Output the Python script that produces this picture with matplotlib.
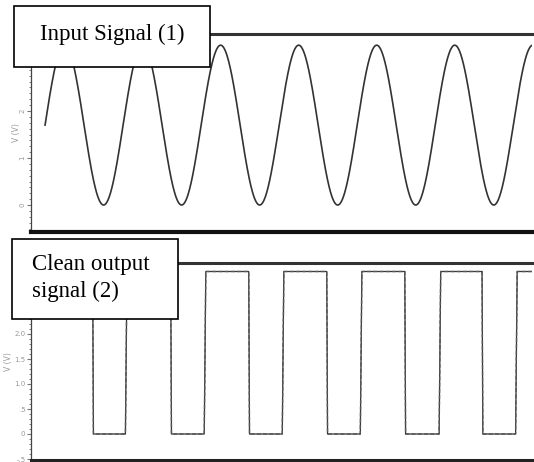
import numpy as np
import matplotlib
matplotlib.use("Agg")
import matplotlib.pyplot as plt
from matplotlib.patches import Rectangle
from matplotlib.ticker import FixedLocator, MultipleLocator

# ---- data (time in signal periods, voltage in V) ----
sine_offset = 1.7
sine_amplitude = 1.7
sine_period = 1.0
sine_start = 0.18
t_end = 6.42

square_high = 3.25
square_low = 0.0
fall_times = [0.79, 1.79, 2.79, 3.79, 4.79, 5.78]
rise_times = [1.21, 2.22, 3.22, 4.22, 5.23, 6.21]

top_ticks = [0, 1, 2, 3]
top_tick_labels = ["0", "1", "2", "3"]
bot_ticks = [-0.5, 0.0, 0.5, 1.0, 1.5, 2.0, 2.5, 3.0]
bot_tick_labels = ["-.5", "0", ".5", "1.0", "1.5", "2.0", "2.5", "3.0"]

box1_text = "Input Signal (1)"
box2_text = "Clean output\nsignal (2)"

W, H = 534, 462
fig = plt.figure(figsize=(W / 100, H / 100), dpi=100)


def ax_rect(x0, y0, x1, y1):
    return [x0 / W, 1 - y1 / H, (x1 - x0) / W, (y1 - y0) / H]


ax1 = fig.add_axes(ax_rect(31, 34, 532, 232))
ax2 = fig.add_axes(ax_rect(31, 263, 532, 460))

# sine wave
t = np.linspace(sine_start, t_end, 2000)
v = sine_offset + sine_amplitude * np.sin(2 * np.pi * (t - sine_start) / sine_period)
ax1.plot(t, v, color="#333333", lw=1.2)
ax1.set_xlim(0, t_end)
ax1.set_ylim(-0.574, 3.638)

# square wave
ts = [sine_start]
vs = [square_high]
for f, r in zip(fall_times, rise_times):
    ts += [f, f + 0.01, r, r + 0.02]
    vs += [square_high, square_low, square_low, square_high]
ts.append(t_end)
vs.append(square_high)
ax2.plot(ts, vs, color="#333333", lw=0.9)
ax2.plot(ts, vs, color="#555555", lw=1.0, ls=(0, (3, 1.5)))
ax2.set_xlim(0, t_end)
ax2.set_ylim(-0.52, 3.42)

for ax in (ax1, ax2):
    ax.spines["right"].set_visible(False)
    ax.spines["top"].set_linewidth(2.2)
    ax.spines["top"].set_color("#333333")
    ax.spines["left"].set_linewidth(0.9)
    ax.spines["left"].set_color("#444444")
    ax.set_xticks([])
    ax.tick_params(axis="y", which="major", length=3, width=0.8, color="#777777",
                   labelsize=5, labelcolor="#999999", pad=1)
    ax.tick_params(axis="y", which="minor", length=1.5, width=0.6, color="#666666")

ax1.spines["bottom"].set_linewidth(3.0)
ax1.spines["bottom"].set_color("#111111")
ax2.spines["bottom"].set_linewidth(2.2)
ax2.spines["bottom"].set_color("#222222")

ax1.yaxis.set_major_locator(FixedLocator(top_ticks))
ax1.set_yticklabels(top_tick_labels, rotation=90, va="center")
ax1.yaxis.set_minor_locator(MultipleLocator(0.125))
ax2.yaxis.set_major_locator(FixedLocator(bot_ticks))
ax2.set_yticklabels(bot_tick_labels)
ax2.yaxis.set_minor_locator(MultipleLocator(0.1))

fig.text(16 / W, 1 - 133 / H, "V (V)", rotation=90, ha="center", va="center",
         fontsize=5.5, color="#999999")
fig.text(9 / W, 1 - 362 / H, "V (V)", rotation=90, ha="center", va="center",
         fontsize=5.5, color="#999999")


def box(x0, y0, x1, y1):
    r = Rectangle((x0 / W, 1 - y1 / H), (x1 - x0) / W, (y1 - y0) / H,
                  transform=fig.transFigure, facecolor="white", edgecolor="black",
                  linewidth=1.2, zorder=10)
    fig.add_artist(r)


box(14, 6, 210, 67)
box(12, 239, 178, 319)
fig.text(112 / W, 1 - 34 / H, box1_text, ha="center", va="center",
         fontsize=16.5, family="Liberation Serif", zorder=11)
fig.text(32 / W, 1 - 278 / H, box2_text, ha="left", va="center",
         fontsize=16.5, family="Liberation Serif", zorder=11, linespacing=1.42)

fig.savefig("out.png", dpi=100)
